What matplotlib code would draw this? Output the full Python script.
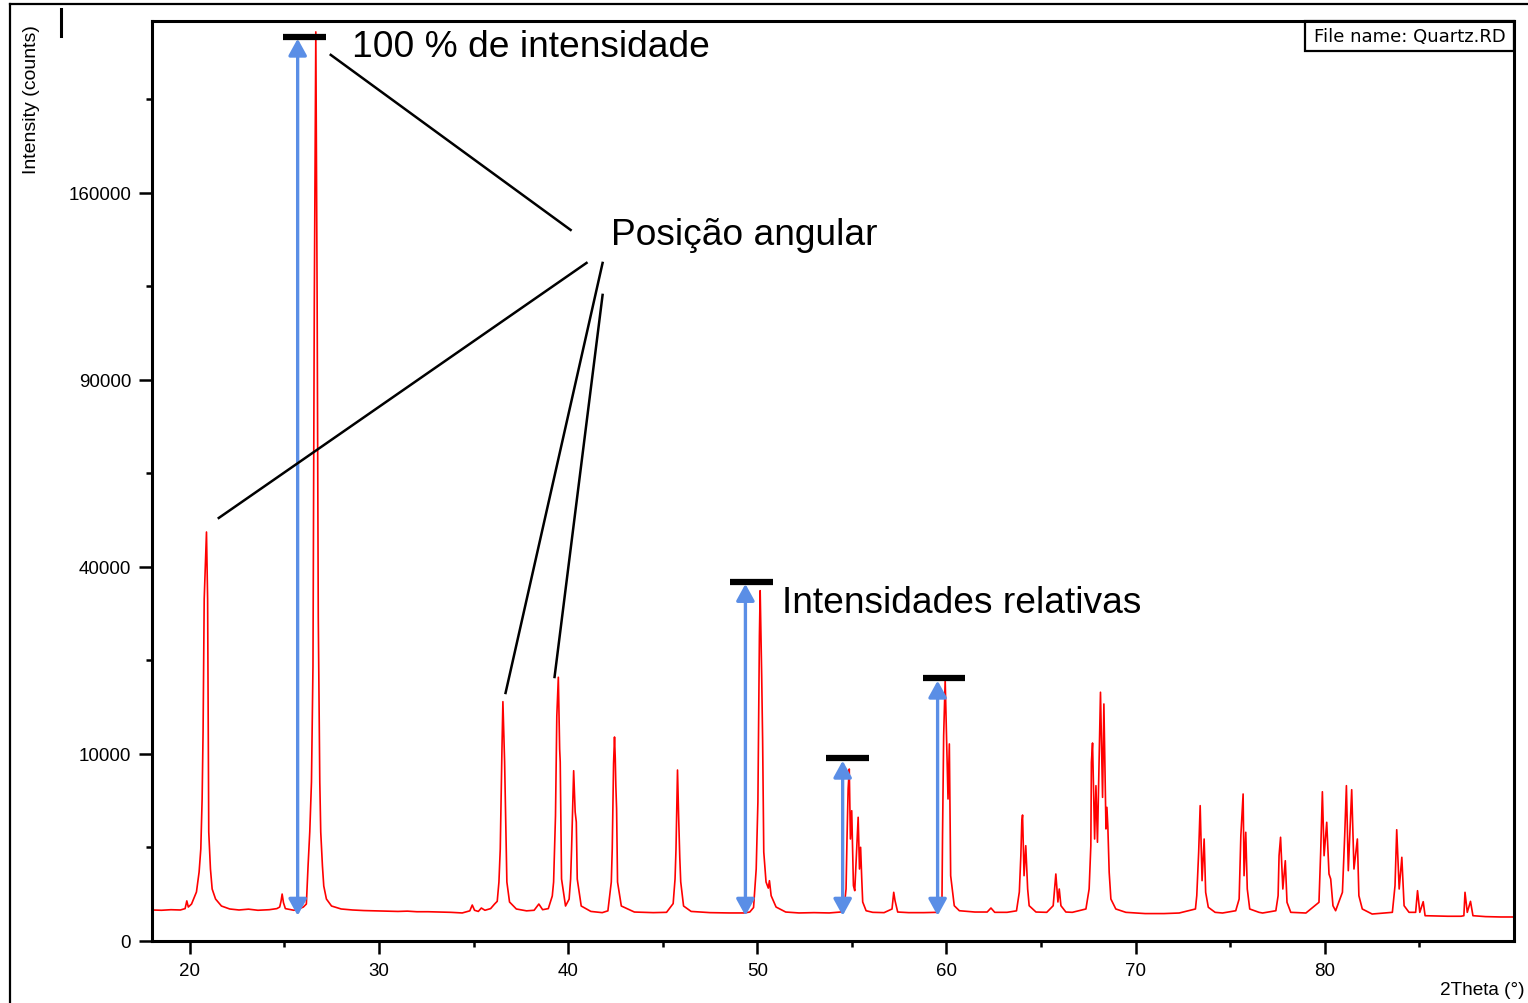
import numpy as np
import matplotlib
matplotlib.use("Agg")
import matplotlib.pyplot as plt
from matplotlib.patches import FancyArrowPatch, Rectangle
from matplotlib.lines import Line2D

plt.rcParams['font.family'] = ['Liberation Sans', 'DejaVu Sans']

# difratograma do quartzo (vertices)
two_theta = [18.00, 18.50, 19.00, 19.50, 19.75, 19.84, 19.92, 20.09, 20.35, 20.49,
             20.58, 20.65, 20.70, 20.76, 20.88, 20.94, 21.00, 21.09, 21.18, 21.36,
             21.67, 22.11, 22.60, 23.10, 23.60, 24.20, 24.60, 24.75, 24.82, 24.88,
             24.95, 25.05, 25.50, 25.80, 26.00, 26.16, 26.25, 26.34, 26.43, 26.51,
             26.58, 26.66, 26.73, 26.79, 26.87, 26.92, 27.01, 27.08, 27.22, 27.49,
             28.00, 28.60, 29.20, 29.80, 30.40, 31.00, 31.50, 32.00, 32.60, 33.20,
             33.80, 34.40, 34.80, 34.93, 35.05, 35.25, 35.41, 35.60, 35.90, 36.11,
             36.25, 36.34, 36.41, 36.50, 36.55, 36.64, 36.76, 36.90, 37.26, 37.80,
             38.20, 38.45, 38.65, 38.95, 39.16, 39.23, 39.33, 39.40, 39.48, 39.55,
             39.58, 39.65, 39.86, 40.05, 40.13, 40.18, 40.29, 40.37, 40.43, 40.48,
             40.69, 41.20, 41.80, 42.10, 42.28, 42.33, 42.40, 42.45, 42.49, 42.52,
             42.56, 42.61, 42.81, 43.50, 44.50, 45.20, 45.55, 45.65, 45.70, 45.78,
             45.84, 45.90, 45.95, 46.10, 46.50, 47.50, 48.50, 49.30, 49.60, 49.80,
             49.94, 50.03, 50.08, 50.11, 50.15, 50.23, 50.28, 50.34, 50.46, 50.58,
             50.64, 50.73, 50.99, 51.50, 52.20, 53.00, 53.80, 54.40, 54.60, 54.69,
             54.74, 54.80, 54.86, 54.92, 54.99, 55.08, 55.15, 55.33, 55.40, 55.46,
             55.52, 55.57, 55.75, 56.10, 56.70, 57.12, 57.21, 57.28, 57.42, 58.00,
             58.80, 59.50, 59.76, 59.79, 59.85, 59.93, 60.00, 60.08, 60.15, 60.22,
             60.41, 60.68, 61.50, 62.15, 62.35, 62.55, 63.20, 63.70, 63.85, 63.93,
             63.98, 64.02, 64.10, 64.19, 64.29, 64.37, 64.73, 65.30, 65.64, 65.78,
             65.89, 65.96, 66.05, 66.31, 66.65, 67.37, 67.54, 67.63, 67.66, 67.72,
             67.83, 67.90, 67.98, 68.14, 68.25, 68.32, 68.43, 68.48, 68.53, 68.60,
             68.69, 68.95, 69.48, 70.50, 71.50, 72.30, 73.16, 73.23, 73.33, 73.41,
             73.51, 73.62, 73.70, 73.84, 74.20, 74.59, 75.29, 75.47, 75.56, 75.68,
             75.73, 75.82, 75.90, 76.03, 76.52, 76.71, 77.41, 77.53, 77.58, 77.66,
             77.78, 77.91, 78.00, 78.20, 79.00, 79.69, 79.78, 79.87, 79.96, 80.10,
             80.22, 80.31, 80.43, 80.57, 80.93, 81.05, 81.14, 81.24, 81.42, 81.54,
             81.72, 81.80, 81.98, 82.50, 83.57, 83.71, 83.80, 83.93, 84.07, 84.19,
             84.45, 84.80, 84.90, 85.02, 85.20, 85.30, 85.80, 86.50, 87.20, 87.35,
             87.41, 87.53, 87.70, 87.83, 88.50, 89.30, 90.00]
counts = [275, 270, 280, 275, 300, 460, 330, 391, 687, 1361,
          2420, 5766, 12490, 33450, 47830, 33450, 3397, 1482, 773, 504,
          350, 293, 275, 290, 270, 280, 300, 330, 450, 630,
          420, 300, 270, 300, 330, 391, 1609, 3397, 7230, 21630,
          117000, 236300, 117000, 30000, 7230, 3397, 1609, 865, 504, 350,
          293, 275, 265, 260, 255, 250, 255, 245, 245, 240,
          235, 225, 260, 370, 270, 250, 311, 270, 300, 391,
          450, 995, 2420, 10540, 16380, 9160, 995, 435, 293, 260,
          270, 391, 280, 300, 579, 995, 4468, 14480, 19890, 10540,
          9160, 1099, 350, 500, 1099, 2420, 8290, 4760, 4050, 1099,
          350, 250, 230, 260, 995, 2420, 9000, 11900, 9500, 6900,
          5000, 995, 350, 240, 230, 235, 400, 1100, 2400, 8360,
          4400, 2000, 1000, 350, 250, 230, 225, 225, 240, 320,
          1482, 5525, 16330, 26600, 35090, 20130, 11470, 2265, 995, 800,
          1040, 587, 330, 240, 225, 230, 225, 240, 356, 773,
          2975, 6607, 8460, 2975, 4855, 875, 724, 4377, 1482, 2511,
          1099, 435, 262, 235, 230, 293, 678, 464, 240, 230,
          230, 235, 428, 3170, 12060, 19500, 12000, 5766, 11100, 1219,
          356, 262, 240, 240, 311, 235, 235, 260, 687, 2080,
          4050, 4540, 1219, 2597, 773, 356, 240, 235, 356, 1284,
          435, 773, 356, 240, 235, 293, 773, 2597, 9130, 11210,
          2975, 6900, 2788, 17690, 5900, 16060, 3590, 5110, 3700, 1349,
          504, 293, 235, 215, 215, 224, 293, 587, 2250, 5240,
          1040, 2975, 678, 325, 235, 224, 262, 504, 3170, 6180,
          1219, 3380, 773, 293, 235, 224, 262, 587, 2080, 3077,
          773, 1843, 428, 235, 224, 428, 2250, 6370, 2080, 4030,
          1284, 1099, 356, 262, 678, 3170, 6900, 1413, 6545, 1482,
          2975, 587, 293, 208, 235, 875, 3540, 773, 2003, 356,
          235, 235, 724, 235, 442, 183, 180, 175, 175, 183,
          678, 235, 450, 183, 170, 165, 165]

# setas de intensidade: posicao, base, topo
arrow_x = [25.70, 49.37, 54.51, 59.53]
arrow_bottom = [183, 183, 183, 183]
arrow_top = [232800, 36450, 9295, 19380]
# barras pretas sobre os picos
bar_x0 = [24.91, 48.58, 53.63, 58.74]
bar_x1 = [27.18, 50.85, 55.92, 60.99]
bar_y = [233700, 36790, 9580, 19780]

# linhas da "Posicao angular"
lines_x = [(27.45, 40.13), (40.97, 21.53), (41.82, 36.69), (41.82, 39.28)]
lines_y = [(224500, 144560), (131460, 51170), (131460, 17590), (119350, 19930)]

y_major = [0, 10000, 40000, 90000, 160000]
y_minor = [2500, 22500, 62500, 122500, 202500]
x_major = [20, 30, 40, 50, 60, 70, 80]
x_minor = [25, 35, 45, 55, 65, 75, 85]

W, H = 1528, 1004
fig = plt.figure(figsize=(W / 100, H / 100), dpi=100)
ax = fig.add_axes([152 / W, 1 - 942 / H, (1514 - 152) / W, (942 - 22) / H])

ax.set_yscale('function', functions=(lambda v: np.sqrt(np.clip(v, 0, None)), lambda v: v ** 2))
ax.plot(two_theta, counts, color='#ff0000', lw=1.2, zorder=2)

ax.set_xlim(18, 90)
ax.set_ylim(0, 242000)
ax.set_yticks(y_major)
ax.set_yticklabels([str(v) for v in y_major])
ax.set_yticks(y_minor, minor=True)
ax.set_xticks(x_major)
ax.set_xticklabels([str(v) for v in x_major])
ax.set_xticks(x_minor, minor=True)
ax.tick_params(which='major', length=9.5, width=1.8, labelsize=13.5, pad=5.5)
ax.tick_params(which='minor', length=4, width=1.8)
for s in ax.spines.values():
    s.set_linewidth(2.2)

for x, yb, yt in zip(arrow_x, arrow_bottom, arrow_top):
    ar = FancyArrowPatch((x, yb), (x, yt), arrowstyle='<|-|>,head_length=10,head_width=5.5',
                         mutation_scale=1, color='#5a8ee6', lw=2.4, shrinkA=0, shrinkB=0, zorder=3)
    ax.add_patch(ar)

for x0, x1, y in zip(bar_x0, bar_x1, bar_y):
    ax.plot([x0, x1], [y, y], color='black', lw=4.5, solid_capstyle='butt', zorder=4)

for lx, ly in zip(lines_x, lines_y):
    ax.plot(lx, ly, color='black', lw=1.8, zorder=4)

ax.text(28.56, 224000, '100 % de intensidade', fontsize=26.7, va='baseline', ha='left')
ax.text(42.24, 138900, 'Posição angular', fontsize=26.7, va='baseline', ha='left')
ax.text(51.33, 30950, 'Intensidades relativas', fontsize=26.7, va='baseline', ha='left')

# caixa com o nome do arquivo
ax.add_patch(Rectangle((0.8466, 0.9674), 0.1535, 0.0326, transform=ax.transAxes,
                       fill=False, lw=1.6, edgecolor='black', clip_on=False, zorder=5))
ax.text(0.8466 + 0.1535 / 2, 0.9674 + 0.0326 / 2, 'File name: Quartz.RD', transform=ax.transAxes,
        ha='center', va='center', fontsize=13,
        family=['Liberation Sans Narrow', 'DejaVu Sans Condensed', 'DejaVu Sans'])

fig.text(32 / W, 1 - 100 / H, 'Intensity (counts)', rotation=90, ha='center', va='center', fontsize=14)
fig.text(1525 / W, 1 - 991 / H, '2Theta (°)', ha='right', va='center', fontsize=13.7)

# moldura externa e traco solto
fig.add_artist(Line2D([10 / W, 10 / W], [0, 1 - 5 / H], color='black', lw=1.6))
fig.add_artist(Line2D([10 / W, 1], [1 - 5 / H, 1 - 5 / H], color='black', lw=1.6))
fig.add_artist(Line2D([61 / W, 61 / W], [1 - 10 / H, 1 - 37 / H], color='black', lw=2.2))

fig.savefig('out.png', dpi=100)
